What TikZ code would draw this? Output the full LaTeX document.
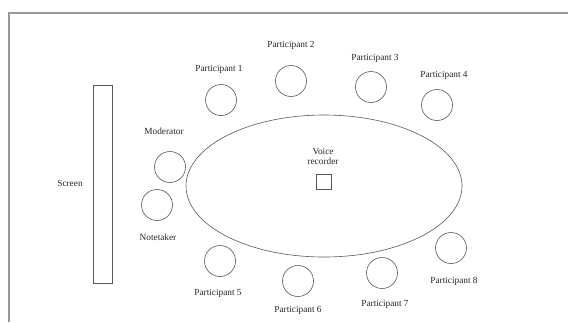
\documentclass[tikz,border=0pt]{standalone}
\usepackage{fontspec}
\setmainfont{Liberation Serif}
\usetikzlibrary{shapes.geometric}
\tikzset{
  seat/.style={draw=black!65, line width=0.6pt, circle, minimum size=31pt, inner sep=0pt},
  lbl/.style={font=\fontsize{9.3}{10}\selectfont, text=black!85, inner sep=0pt, align=center},
  frameline/.style={draw=black!40, line width=1.4pt},
  outl/.style={draw=black!65, line width=0.6pt}
}
\begin{document}
\begin{tikzpicture}[x=1pt,y=-1pt]
\useasboundingbox (0,0) rectangle (569,322);
\fill[white] (0,0) rectangle (569,322);
% frame
\coordinate (f1) at (9,322);
\coordinate (f2) at (9,13);
\coordinate (f3) at (568,13);
\draw[frameline] (f1) -- (f2) -- (f3);
% screen
\node[outl, rectangle, minimum width=19pt, minimum height=198pt, inner sep=0pt] (screen) at (102.5,184) {};
\node[lbl] (screenl) at (70,183) {Screen};
% table
\node[outl, ellipse, minimum width=276pt, minimum height=142pt, inner sep=0pt] (table) at (324,186) {};
\node[lbl] (voicel) at (323,156) {Voice\\recorder};
\node[outl, rectangle, minimum size=15pt, inner sep=0pt] (rec) at (324,182) {};
% seats
\node[seat] (p1) at (221,100) {};
\node[lbl] (p1l) at (219,69) {Participant 1};
\node[seat] (p2) at (291,81) {};
\node[lbl] (p2l) at (291,45) {Participant 2};
\node[seat] (p3) at (371,87) {};
\node[lbl] (p3l) at (375,58) {Participant 3};
\node[seat] (p4) at (437,105) {};
\node[lbl] (p4l) at (444,75) {Participant 4};
\node[seat] (mod) at (170,167) {};
\node[lbl] (modl) at (164,131) {Moderator};
\node[seat] (note) at (157,205) {};
\node[lbl] (notel) at (158,237) {Notetaker};
\node[seat] (p5) at (220,261) {};
\node[lbl] (p5l) at (218,293) {Participant 5};
\node[seat] (p6) at (298,281) {};
\node[lbl] (p6l) at (298,310) {Participant 6};
\node[seat] (p7) at (382,273) {};
\node[lbl] (p7l) at (385,304) {Participant 7};
\node[seat] (p8) at (451,248) {};
\node[lbl] (p8l) at (454,281) {Participant 8};
\end{tikzpicture}
\end{document}
